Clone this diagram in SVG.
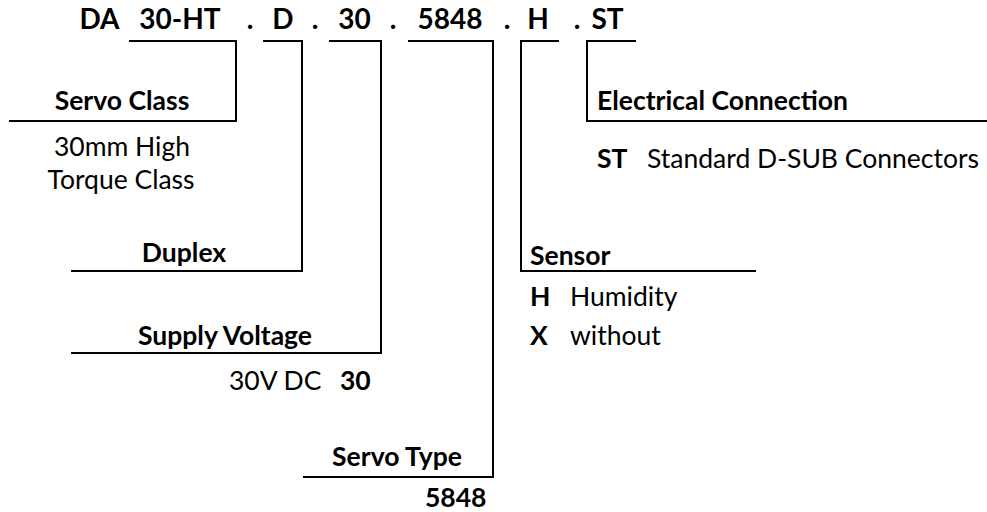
<svg xmlns="http://www.w3.org/2000/svg" width="987" height="512" viewBox="0 0 987 512">
<style>
text{font-family:Lato,"Open Sans",sans-serif;fill:#000}
.c{font-size:28px;font-weight:bold;text-anchor:middle}
.h{font-size:26.5px;font-weight:bold}
.r{font-size:26.5px}
.b{font-size:26.5px;font-weight:bold}
.m{text-anchor:middle}
.ln{fill:none;stroke:#000;stroke-width:2}
</style>
<rect width="987" height="512" fill="#fff"/>
<g id="code">
<text class="c" x="99.5" y="29">DA</text>
<text class="c" x="180" y="29">30-HT</text>
<text class="c" x="250" y="29">.</text>
<text class="c" x="283" y="29">D</text>
<text class="c" x="315" y="29">.</text>
<text class="c" x="354.5" y="29">30</text>
<text class="c" x="393" y="29">.</text>
<text class="c" x="450" y="29">5848</text>
<text class="c" x="507" y="29">.</text>
<text class="c" x="538" y="29">H</text>
<text class="c" x="577" y="29">.</text>
<text class="c" x="607.5" y="29">ST</text>
</g>
<g id="connectors">
<path class="ln" d="M129,41 H236 V121 H9"/>
<path class="ln" d="M263,41 H302 V271 H71"/>
<path class="ln" d="M329,41 H381 V353 H71"/>
<path class="ln" d="M408,41 H493 V477 H303"/>
<path class="ln" d="M559,41 H521 V271 H756"/>
<path class="ln" d="M636,41 H587 V121 H987"/>
</g>
<g id="servo-class">
<text class="h m" x="122" y="110">Servo Class</text>
<text class="r m" x="122" y="156">30mm High</text>
<text class="r m" x="121" y="189">Torque Class</text>
</g>
<g id="duplex">
<text class="h m" x="184" y="262">Duplex</text>
</g>
<g id="supply-voltage">
<text class="h m" x="225" y="345">Supply Voltage</text>
<text class="r" x="229" y="390">30V DC</text>
<text class="b" x="340" y="390">30</text>
</g>
<g id="servo-type">
<text class="h m" x="397" y="466">Servo Type</text>
<text class="b" x="425" y="507">5848</text>
</g>
<g id="sensor">
<text class="h" x="530" y="265">Sensor</text>
<text class="b" x="530" y="306">H</text>
<text class="r" x="570" y="306">Humidity</text>
<text class="b" x="530" y="345">X</text>
<text class="r" x="570" y="345">without</text>
</g>
<g id="electrical-connection">
<text class="h" x="597" y="110">Electrical Connection</text>
<text class="b" x="597" y="168">ST</text>
<text class="r" x="647" y="168">Standard D-SUB Connectors</text>
</g>
</svg>
